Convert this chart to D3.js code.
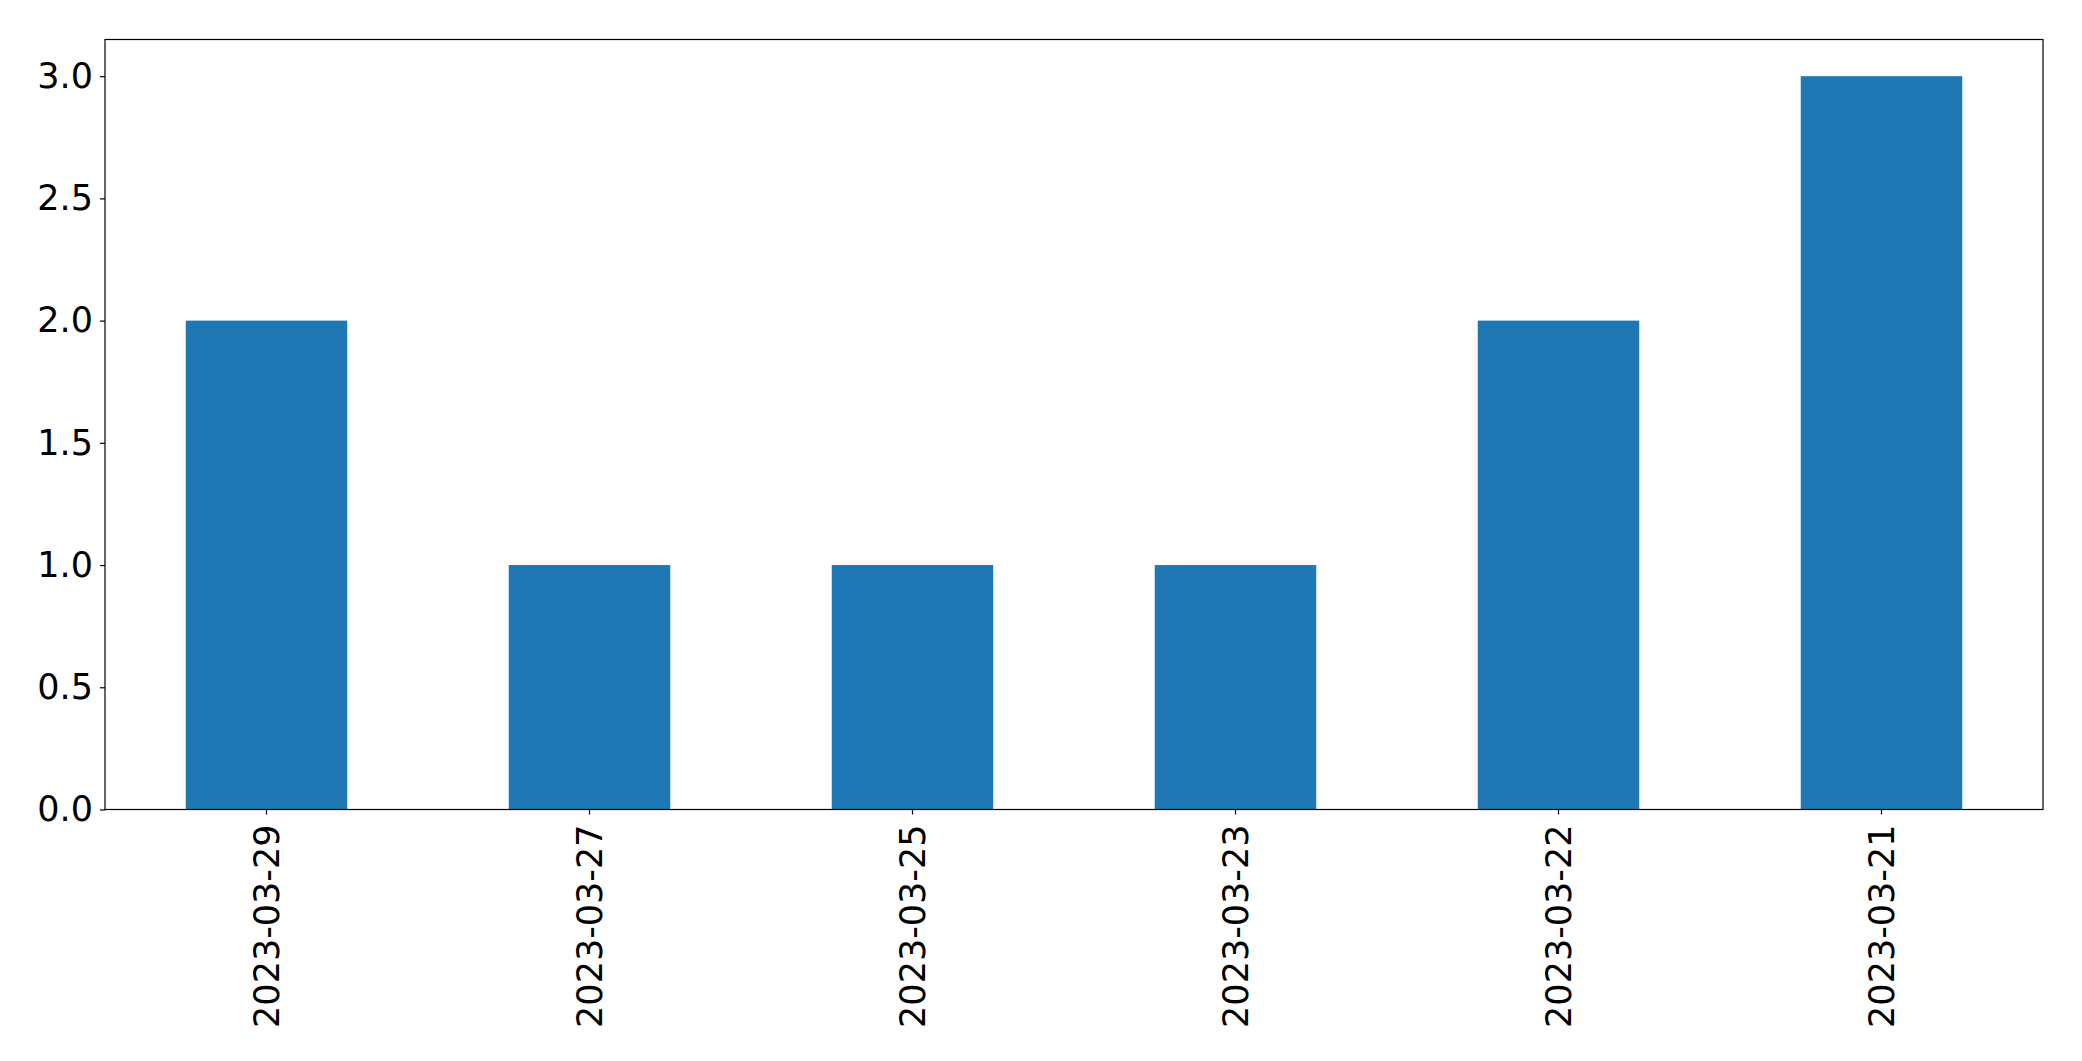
<!DOCTYPE html>
<html>
<head>
<meta charset="utf-8">
<script src="https://cdn.jsdelivr.net/npm/d3@7"></script>
<style>
  html, body { margin: 0; padding: 0; background: #fff; }
  svg { display: block; }
  text { font-family: "DejaVu Sans", sans-serif; fill: #000; }
</style>
</head>
<body>
<svg id="chart" width="2082" height="1061"></svg>
<script>
const categories = ["2023-03-29", "2023-03-27", "2023-03-25", "2023-03-23", "2023-03-22", "2023-03-21"];
const values = [2, 1, 1, 1, 2, 3];
const yTicks = [0, 0.5, 1.0, 1.5, 2.0, 2.5, 3.0];

const W = 2082, H = 1061;
const margin = { left: 105, right: 2082 - 2043, top: 39.5, bottom: 1061 - 809.5 };
const svg = d3.select("#chart");

const x = d3.scaleBand()
  .domain(categories)
  .range([margin.left, W - margin.right])
  .paddingInner(0.5)
  .paddingOuter(0.25);

const y = d3.scaleLinear()
  .domain([0, d3.max(values) * 1.05])
  .range([H - margin.bottom, margin.top]);

const data = categories.map((c, i) => ({ c, v: values[i] }));

svg.append("g")
  .selectAll("rect")
  .data(data)
  .join("rect")
  .attr("x", d => x(d.c))
  .attr("width", x.bandwidth())
  .attr("y", d => y(d.v))
  .attr("height", d => y(0) - y(d.v))
  .attr("fill", "#1f77b4");

// frame
svg.append("rect")
  .attr("x", margin.left)
  .attr("y", margin.top)
  .attr("width", W - margin.right - margin.left)
  .attr("height", H - margin.bottom - margin.top)
  .attr("fill", "none")
  .attr("stroke", "#000")
  .attr("stroke-width", 1.2);

// y axis
const yAxis = svg.append("g")
  .attr("transform", `translate(${margin.left},0)`)
  .call(d3.axisLeft(y).tickValues(yTicks).tickFormat(d3.format(".1f")).tickSize(5).tickPadding(7));
yAxis.select(".domain").remove();
yAxis.selectAll(".tick line").attr("stroke", "#000").attr("stroke-width", 1.2);
yAxis.selectAll(".tick text")
  .style("font-family", "'DejaVu Sans', sans-serif")
  .style("font-size", "35px")
  .attr("fill", "#000");

// x axis
const xAxis = svg.append("g")
  .attr("transform", `translate(0,${H - margin.bottom})`)
  .call(d3.axisBottom(x).tickSize(5).tickPadding(0));
xAxis.select(".domain").remove();
xAxis.selectAll(".tick line").attr("stroke", "#000").attr("stroke-width", 1.2);
xAxis.selectAll(".tick text")
  .style("font-family", "'DejaVu Sans', sans-serif")
  .style("font-size", "35px")
  .attr("fill", "#000")
  .attr("text-anchor", "end")
  .attr("transform", "translate(0,15) rotate(-90)")
  .attr("x", 0)
  .attr("y", 0)
  .attr("dy", "0.36em");
</script>
</body>
</html>
